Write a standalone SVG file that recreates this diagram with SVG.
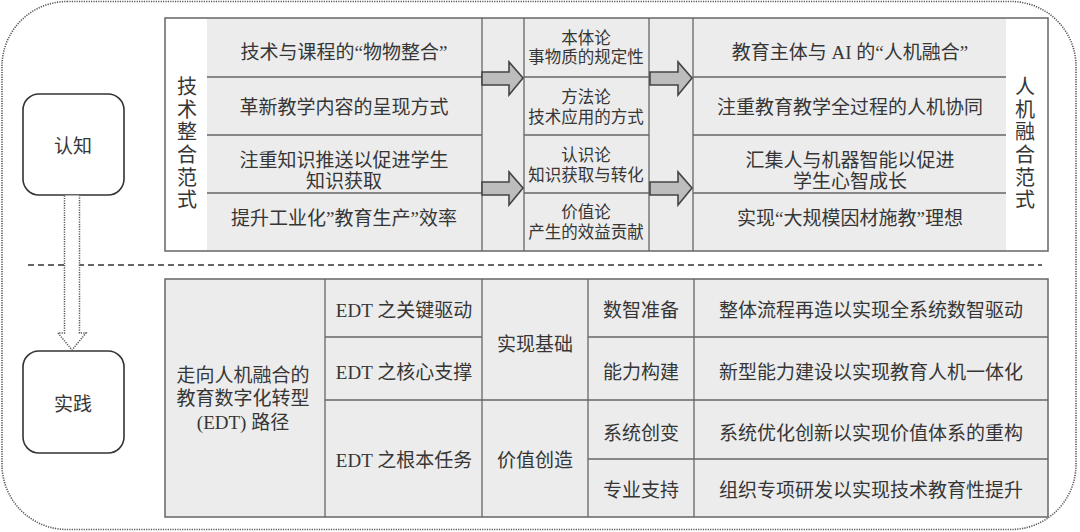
<svg xmlns="http://www.w3.org/2000/svg" width="1080" height="532" viewBox="0 0 1080 532">
<style>
text{font-family:"Liberation Serif","Noto Sans CJK SC",serif;fill:#363636;text-anchor:middle;dominant-baseline:central}
.t19{font-size:19px}
.t16{font-size:16.5px}
.t20{font-size:20px}
.cell{fill:#ececec;stroke:none}
.ln{stroke:#666;stroke-width:1.3;fill:none}
.frame{fill:none;stroke:#666;stroke-width:1.5}
.blk{fill:#bdbdbd;stroke:#444;stroke-width:1.6;stroke-linejoin:miter}
.box{fill:#fff;stroke:#333;stroke-width:1.6}
</style>
<rect id="outer" x="2" y="1.5" width="1074" height="528" rx="65" ry="65" fill="#fff" stroke="#555" stroke-width="1.6" stroke-dasharray="1.2 1.2"/>

<g id="divider"><line x1="28" y1="265" x2="1042" y2="265" stroke="#333" stroke-width="1.6" stroke-dasharray="6 4"/></g>

<!-- top table -->
<g id="top-table">
<rect x="165" y="18" width="883" height="233" fill="#fff"/>
<rect class="cell" x="207" y="18" width="275" height="233"/>
<rect class="cell" x="482" y="18" width="42" height="233"/>
<rect class="cell" x="524" y="18" width="125" height="233"/>
<rect class="cell" x="649" y="18" width="44" height="233"/>
<rect class="cell" x="693" y="18" width="313" height="233"/>
<line class="ln" x1="207" y1="77" x2="482" y2="77"/>
<line class="ln" x1="207" y1="135" x2="482" y2="135"/>
<line class="ln" x1="207" y1="193" x2="482" y2="193"/>
<line class="ln" x1="524" y1="77" x2="649" y2="77"/>
<line class="ln" x1="524" y1="135" x2="649" y2="135"/>
<line class="ln" x1="524" y1="193" x2="649" y2="193"/>
<line class="ln" x1="693" y1="77" x2="1006" y2="77"/>
<line class="ln" x1="693" y1="135" x2="1006" y2="135"/>
<line class="ln" x1="693" y1="193" x2="1006" y2="193"/>
<line class="ln" x1="482" y1="18" x2="482" y2="251"/>
<line class="ln" x1="524" y1="18" x2="524" y2="251"/>
<line class="ln" x1="649" y1="18" x2="649" y2="251"/>
<line class="ln" x1="693" y1="18" x2="693" y2="251"/>
<rect class="frame" x="165" y="18" width="883" height="233"/>
</g>

<g id="label-left">
<text class="t20" x="187" y="87">技</text>
<text class="t20" x="187" y="110">术</text>
<text class="t20" x="187" y="132">整</text>
<text class="t20" x="187" y="155">合</text>
<text class="t20" x="187" y="178">范</text>
<text class="t20" x="187" y="200">式</text>
</g>
<g id="label-right">
<text class="t20" x="1025" y="87">人</text>
<text class="t20" x="1025" y="110">机</text>
<text class="t20" x="1025" y="132">融</text>
<text class="t20" x="1025" y="155">合</text>
<text class="t20" x="1025" y="178">范</text>
<text class="t20" x="1025" y="200">式</text>
</g>

<g id="tech-cells">
<text class="t19" x="344" y="52">技术与课程的“物物整合”</text>
<text class="t19" x="344" y="107">革新教学内容的呈现方式</text>
<text class="t19" x="344" y="160">注重知识推送以促进学生</text>
<text class="t19" x="344" y="181">知识获取</text>
<text class="t19" x="344" y="218">提升工业化”教育生产”效率</text>
</g>
<g id="mid-cells">
<text class="t16" x="586" y="38">本体论</text>
<text class="t16" x="586" y="57">事物质的规定性</text>
<text class="t16" x="586" y="97">方法论</text>
<text class="t16" x="586" y="117">技术应用的方式</text>
<text class="t16" x="586" y="155">认识论</text>
<text class="t16" x="586" y="175">知识获取与转化</text>
<text class="t16" x="586" y="212">价值论</text>
<text class="t16" x="586" y="232">产生的效益贡献</text>
</g>
<g id="human-cells">
<text class="t19" x="850" y="52">教育主体与 AI 的“人机融合”</text>
<text class="t19" x="850" y="107">注重教育教学全过程的人机协同</text>
<text class="t19" x="850" y="160">汇集人与机器智能以促进</text>
<text class="t19" x="850" y="181">学生心智成长</text>
<text class="t19" x="850" y="218">实现“大规模因材施教”理想</text>
</g>

<!-- bottom table -->
<g id="bottom-table">
<rect class="cell" x="165" y="279" width="883" height="238"/>
<line class="ln" x1="325" y1="279" x2="325" y2="517"/>
<line class="ln" x1="482" y1="279" x2="482" y2="517"/>
<line class="ln" x1="588" y1="279" x2="588" y2="517"/>
<line class="ln" x1="694" y1="279" x2="694" y2="517"/>
<line class="ln" x1="325" y1="337" x2="482" y2="337"/>
<line class="ln" x1="325" y1="400" x2="1048" y2="400"/>
<line class="ln" x1="588" y1="337" x2="1048" y2="337"/>
<line class="ln" x1="588" y1="459" x2="1048" y2="459"/>
<rect class="frame" x="165" y="279" width="883" height="238"/>
</g>
<g id="path-node">
<text class="t19" x="243" y="375">走向人机融合的</text>
<text class="t19" x="243" y="398">教育数字化转型</text>
<text class="t19" x="243" y="422">(EDT) 路径</text>
</g>
<g id="edt-cells">
<text class="t19" x="404" y="310">EDT 之关键驱动</text>
<text class="t19" x="404" y="372">EDT 之核心支撑</text>
<text class="t19" x="404" y="460">EDT 之根本任务</text>
</g>
<g id="basis-cells">
<text class="t19" x="535" y="344">实现基础</text>
<text class="t19" x="535" y="460">价值创造</text>
</g>
<g id="dim-cells">
<text class="t19" x="641" y="310">数智准备</text>
<text class="t19" x="641" y="372">能力构建</text>
<text class="t19" x="641" y="433">系统创变</text>
<text class="t19" x="641" y="490">专业支持</text>
</g>
<g id="action-cells">
<text class="t19" x="871" y="310">整体流程再造以实现全系统数智驱动</text>
<text class="t19" x="871" y="372">新型能力建设以实现教育人机一体化</text>
<text class="t19" x="871" y="433">系统优化创新以实现价值体系的重构</text>
<text class="t19" x="871" y="490">组织专项研发以实现技术教育性提升</text>
</g>

<g id="node-cognition">
<rect class="box" x="23" y="94" width="101" height="101" rx="16"/>
<text class="t19" x="73" y="146">认知</text>
</g>
<g id="node-practice">
<rect class="box" x="23" y="351" width="101" height="102" rx="16"/>
<text class="t19" x="73" y="404">实践</text>
</g>

<g id="connectors">
<path d="M64.5,195.5 V333 H58 L72,350 L86,333 H79.5 V195.5" fill="#fff" stroke="#555" stroke-width="1.5" stroke-dasharray="1.2 1.2"/>
<path class="blk" d="M482,72 H509 V62 L523,78 L509,95 V85 H482 Z"/>
<path class="blk" d="M482,182 H509 V172 L523,188 L509,205 V195 H482 Z"/>
<path class="blk" d="M650,72 H678 V62 L692,78 L678,95 V85 H650 Z"/>
<path class="blk" d="M650,182 H678 V172 L692,188 L678,205 V195 H650 Z"/>
</g>
</svg>
